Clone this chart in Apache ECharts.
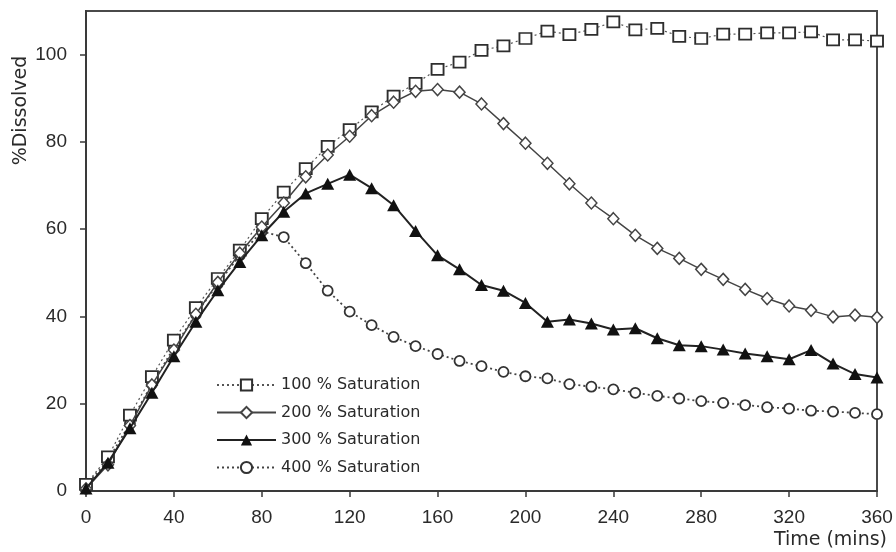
<!DOCTYPE html>
<html>
<head>
<meta charset="utf-8">
<title>Dissolution profiles</title>
<script src="https://cdn.jsdelivr.net/npm/echarts@6/dist/echarts.min.js"></script>
<style>
  html, body { margin: 0; padding: 0; background: #fff; }
  #chart { width: 896px; height: 552px; }
</style>
</head>
<body>
<div id="chart"></div>
<script>
// Sampling times (minutes)
const times = [0, 10, 20, 30, 40, 50, 60, 70, 80, 90, 100, 110, 120, 130, 140, 150, 160, 170, 180,
  190, 200, 210, 220, 230, 240, 250, 260, 270, 280, 290, 300, 310, 320, 330, 340, 350, 360];

// % dissolved at each time, one array per saturation level
const sat100 = [1.5, 7.8, 17.4, 26.2, 34.6, 42.0, 48.7, 55.2, 62.4, 68.5, 73.9, 79.0, 82.8, 86.9, 90.5, 93.4,
  96.6, 98.3, 101.0, 102.0, 103.7, 105.4, 104.6, 105.8, 107.5, 105.7, 106.0, 104.2, 103.7, 104.7, 104.7,
  105.0, 105.0, 105.2, 103.4, 103.4, 103.1];
const sat200 = [0.5, 6.0, 15.0, 24.3, 32.3, 40.5, 47.8, 54.5, 60.5, 66.0, 72.0, 77.0, 81.3, 86.0, 89.1, 91.6,
  92.0, 91.4, 88.7, 84.2, 79.7, 75.1, 70.4, 66.0, 62.4, 58.6, 55.6, 53.3, 50.8, 48.5, 46.2,
  44.1, 42.4, 41.4, 39.9, 40.3, 39.8];
const sat300 = [0.6, 6.5, 14.4, 22.5, 30.9, 38.8, 46.0, 52.5, 58.6, 64.0, 68.2, 70.4, 72.5, 69.4, 65.5, 59.6,
  54.0, 50.8, 47.2, 45.9, 43.1, 38.8, 39.3, 38.4, 37.0, 37.3, 35.0, 33.4, 33.2, 32.4, 31.5,
  30.9, 30.2, 32.3, 29.2, 26.8, 26.0];
const sat400 = [1.2, 7.0, 15.5, 24.5, 32.8, 40.5, 47.5, 54.0, 59.5, 58.2, 52.2, 45.9, 41.1, 38.0, 35.3, 33.2,
  31.4, 29.8, 28.6, 27.3, 26.3, 25.8, 24.5, 23.9, 23.3, 22.5, 21.8, 21.2, 20.6, 20.2, 19.7,
  19.2, 18.9, 18.4, 18.2, 17.9, 17.6];

const seriesNames = ['100 % Saturation', '200 % Saturation', '300 % Saturation', '400 % Saturation'];

const xTicks = { min: 0, max: 360, interval: 40 };
const yTicks = { min: 0, max: 110, interval: 20 };

const pairs = (vals) => times.map((t, i) => [t, vals[i]]);

const tickFont = '"Liberation Sans", Arial, sans-serif';
const textFont = '"DejaVu Sans", sans-serif';

const chart = echarts.init(document.getElementById('chart'), null, { renderer: 'canvas' });

chart.setOption({
  animation: false,
  backgroundColor: '#ffffff',
  grid: {
    left: 86, right: 19, top: 11, bottom: 61,
    show: true, borderColor: '#4a4a4a', borderWidth: 2, backgroundColor: 'transparent'
  },
  legend: {
    orient: 'vertical',
    left: 216, top: 377,
    padding: 0,
    itemWidth: 59, itemHeight: 14, itemGap: 11.5,
    textStyle: { fontFamily: textFont, fontSize: 16, color: '#2a2a2a', lineHeight: 16 },
    data: seriesNames
  },
  xAxis: {
    type: 'value',
    min: xTicks.min, max: xTicks.max, interval: xTicks.interval,
    splitLine: { show: false },
    axisLine: { show: true, onZero: false, lineStyle: { color: '#3a3a3a', width: 2 } },
    axisTick: { show: true, inside: false, length: 6, lineStyle: { color: '#3a3a3a', width: 1.5 } },
    axisLabel: { fontFamily: tickFont, fontSize: 19, color: '#2a2a2a', margin: 17 }
  },
  yAxis: {
    type: 'value',
    min: yTicks.min, max: yTicks.max, interval: yTicks.interval,
    splitLine: { show: false },
    axisLine: { show: true, lineStyle: { color: '#3a3a3a', width: 2 } },
    axisTick: { show: true, inside: false, length: 6, lineStyle: { color: '#3a3a3a', width: 1.5 } },
    axisLabel: { fontFamily: tickFont, fontSize: 19, color: '#2a2a2a', margin: 19, showMaxLabel: false }
  },
  graphic: [
    {
      type: 'text', x: 21, y: 110.5, rotation: Math.PI / 2,
      style: { text: '%Dissolved', font: '19px ' + textFont, fill: '#2a2a2a',
               textAlign: 'center', textVerticalAlign: 'middle' }
    },
    {
      type: 'text', x: 887, y: 540,
      style: { text: 'Time (mins)', font: '19px ' + textFont, fill: '#2a2a2a',
               textAlign: 'right', textVerticalAlign: 'middle' }
    }
  ],
  series: [
    {
      name: seriesNames[0], type: 'line', data: pairs(sat100), z: 3,
      symbol: 'rect', symbolSize: [12, 11], color: '#333',
      lineStyle: { color: '#555', width: 1.2, type: [2, 3] },
      itemStyle: { color: '#ffffff', borderColor: '#2e2e2e', borderWidth: 1.8 }
    },
    {
      name: seriesNames[1], type: 'line', data: pairs(sat200), z: 4,
      symbol: 'diamond', symbolSize: [11, 12], color: '#333',
      lineStyle: { color: '#444', width: 1.5, type: 'solid' },
      itemStyle: { color: '#ffffff', borderColor: '#444', borderWidth: 1.5 }
    },
    {
      name: seriesNames[2], type: 'line', data: pairs(sat300), z: 5,
      symbol: 'triangle', symbolSize: [13, 12], color: '#111',
      lineStyle: { color: '#222', width: 2, type: 'solid' },
      itemStyle: { color: '#111', borderColor: '#111', borderWidth: 0 }
    },
    {
      name: seriesNames[3], type: 'line', data: pairs(sat400), z: 2,
      symbol: 'circle', symbolSize: 10, color: '#333',
      lineStyle: { color: '#444', width: 1.8, type: [2, 3] },
      itemStyle: { color: '#ffffff', borderColor: '#333', borderWidth: 1.8 }
    }
  ]
});
</script>
</body>
</html>
